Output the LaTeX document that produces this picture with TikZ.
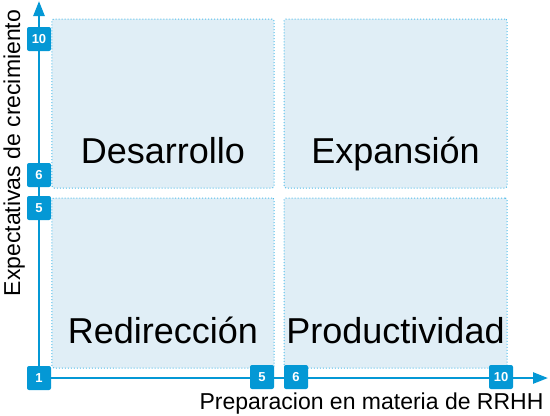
\documentclass[tikz,border=0pt]{standalone}
\usepackage{fontspec}
\setmainfont{Liberation Sans}
\usepackage{xcolor}
\definecolor{axisblue}{HTML}{0498D5}
\definecolor{quadfill}{HTML}{E0EEF6}
\definecolor{quadedge}{HTML}{4FBDEB}
\usetikzlibrary{calc,arrows.meta,positioning}

\begin{document}
\begin{tikzpicture}[
		x=1bp, y=-1bp,
		axis/.style={line width=2.5bp, axisblue, -{Triangle[length=15bp,width=11bp]}},
		badge/.style={fill=axisblue, text=white, rounded corners=2bp, minimum size=24bp, inner sep=0pt, font=\fontsize{13bp}{15bp}\selectfont\bfseries},
		quad/.style={fill=quadfill, draw=quadedge, dotted, line width=1bp, rounded corners=2bp, inner sep=0pt},
		quadlabel/.style={anchor=base, font=\fontsize{36bp}{40bp}\selectfont},
		axislabel/.style={font=\fontsize{23bp}{26bp}\selectfont}
	]
		\useasboundingbox (0,0) rectangle (550,415);

		% quadrants
		\node[quad, minimum width=222bp, minimum height=169bp] (desarrollo) at (163,103.5) {};
		\node[quad, minimum width=223bp, minimum height=169bp] (expansion) at (395.5,103.5) {};
		\node[quad, minimum width=222bp, minimum height=170bp] (redireccion) at (163,283) {};
		\node[quad, minimum width=223bp, minimum height=170bp] (productividad) at (395.5,283) {};

		\node[quadlabel] (lblDes) at ($(desarrollo.south)+(0,-25)$) {Desarrollo};
		\node[quadlabel] (lblExp) at ($(expansion.south)+(0,-25)$) {Expansión};
		\node[quadlabel] (lblRed) at ($(redireccion.south)+(0,-25)$) {Redirección};
		\node[quadlabel] (lblProd) at ($(productividad.south)+(0,-25)$) {Productividad};

		% axes
		\coordinate (origin) at (39,378);
		\coordinate (xend) at (548,378);
		\coordinate (yend) at (39,1);
		\draw[axis] (origin) -- (xend);
		\draw[axis] (origin) -- (yend);

		\node[axislabel, anchor=base east] (xlabel) at (547,409) {Preparacion en materia de RRHH};
		\node[axislabel, anchor=base, rotate=90] (ylabel) at (20,153) {Expectativas de crecimiento};

		% badges
		\node[badge] (x1) at (origin) {1};
		\node[badge] (x5) at (262,377) {5};
		\node[badge] (x6) at (296,377) {6};
		\node[badge] (x10) at (501,377) {10};
		\node[badge] (y5) at (39,208) {5};
		\node[badge] (y6) at (39,175) {6};
		\node[badge] (y10) at (39,39) {10};
	\end{tikzpicture}
\end{document}
